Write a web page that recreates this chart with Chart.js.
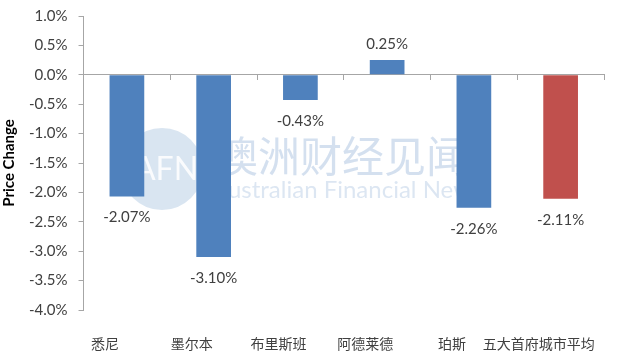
<!DOCTYPE html>
<html>
<head>
<meta charset="utf-8">
<script src="https://cdn.jsdelivr.net/npm/chart.js@4"></script>
<style>
  html, body { margin: 0; padding: 0; background: #fff; }
  #wrap { width: 627px; height: 362px; }
</style>
</head>
<body>
<div id="wrap"><canvas id="priceChart"></canvas></div>
<script>
// city names (x categories) and price change in %
const cities = ['悉尼', '墨尔本', '布里斯班', '阿德莱德', '珀斯', '五大首府城市平均'];
const priceChange = [-2.07, -3.10, -0.43, 0.25, -2.26, -2.11];
const barColors = ['#4f81bd', '#4f81bd', '#4f81bd', '#4f81bd', '#4f81bd', '#c0504d'];
const yMin = -4.0, yMax = 1.0, yStep = 0.5;

const axisColor = '#a6a6a6';
const latin = 'Lato, "Liberation Sans", sans-serif';
const cjk = '"Noto Sans CJK SC", sans-serif';

// white background
const bgPlugin = {
    id: 'bg',
    beforeDraw(chart) {
        const ctx = chart.ctx;
        ctx.save();
        ctx.fillStyle = '#fff';
        ctx.fillRect(0, 0, chart.width, chart.height);
        ctx.restore();
    }
};

// faint AFN watermark behind the bars
const watermark = {
    id: 'watermark',
    beforeDatasetsDraw(chart) {
        const ctx = chart.ctx;
        ctx.save();
        ctx.fillStyle = 'rgba(120,160,205,0.28)';
        ctx.beginPath();
        ctx.arc(162, 169, 41, 0, Math.PI * 2);
        ctx.fill();
        ctx.fillStyle = 'rgba(255,255,255,0.85)';
        ctx.font = '32px ' + latin;
        ctx.textAlign = 'center';
        ctx.textBaseline = 'middle';
        ctx.fillText('AFN', 166, 170);
        ctx.fillStyle = 'rgba(120,160,205,0.32)';
        ctx.font = '42px ' + cjk;
        ctx.textAlign = 'left';
        ctx.fillText('澳洲财经见闻', 216, 156);
        ctx.font = '24px ' + latin;
        ctx.fillStyle = 'rgba(120,160,205,0.26)';
        ctx.fillText('Australian Financial News', 212, 190);
        ctx.restore();
    }
};

// value labels under negative bars, above positive ones
const valueLabels = {
    id: 'valueLabels',
    afterDatasetsDraw(chart) {
        const ctx = chart.ctx;
        const meta = chart.getDatasetMeta(0);
        ctx.save();
        ctx.font = '15px ' + latin;
        ctx.fillStyle = '#404040';
        ctx.textAlign = 'center';
        ctx.textBaseline = 'middle';
        meta.data.forEach((bar, i) => {
            const v = priceChange[i];
            const y = v < 0 ? bar.y + 21 : bar.y - 16;
            ctx.fillText(v.toFixed(2) + '%', bar.x, y);
        });
        ctx.restore();
    }
};

new Chart(document.getElementById('priceChart'), {
    type: 'bar',
    data: {
        labels: cities,
        datasets: [{
            data: priceChange,
            backgroundColor: barColors,
            barPercentage: 0.4,
            categoryPercentage: 1.0,
        }],
    },
    options: {
        responsive: true,
        maintainAspectRatio: false,
        animation: false,
        layout: { padding: { left: 0, right: 23, top: 16, bottom: 9 } },
        plugins: {
            legend: { display: false },
            tooltip: { enabled: false },
        },
        scales: {
            // category labels along the bottom
            x: {
                grid: { display: false, drawTicks: false },
                border: { display: false },
                ticks: {
                    color: '#404040',
                    font: { family: cjk, size: 14 },
                    padding: 25,
                    labelOffset: -22,
                    autoSkip: false,
                    maxRotation: 0,
                },
                afterFit: (scale) => {
                    scale.height = 43;
                    scale.paddingLeft = 0;
                    scale.paddingRight = 0;
                },
            },
            // axis line with tick marks on the zero value
            xZero: {
                axis: 'x',
                type: 'category',
                labels: cities,
                position: { y: 0 },
                offset: true,
                grid: { offset: true, drawOnChartArea: false, tickLength: 5, color: axisColor },
                border: { color: axisColor },
                ticks: { display: false },
                afterFit: (scale) => {
                    scale.height = 0;
                    scale.paddingLeft = 0;
                    scale.paddingRight = 0;
                },
            },
            y: {
                min: yMin,
                max: yMax,
                grid: { drawOnChartArea: false, tickLength: 5, color: axisColor },
                border: { color: axisColor },
                ticks: {
                    stepSize: yStep,
                    color: '#404040',
                    font: { family: latin, size: 15 },
                    padding: 11,
                    callback: (v) => v.toFixed(1) + '%',
                },
                title: {
                    display: true,
                    text: 'Price Change',
                    color: '#000',
                    font: { family: latin, size: 15, weight: 'bold' },
                    padding: { top: 0, bottom: 0 },
                },
                afterFit: (scale) => {
                    scale.paddingTop = 0;
                    scale.paddingBottom = 0;
                },
            },
        },
    },
    plugins: [bgPlugin, watermark, valueLabels],
});
</script>
</body>
</html>
